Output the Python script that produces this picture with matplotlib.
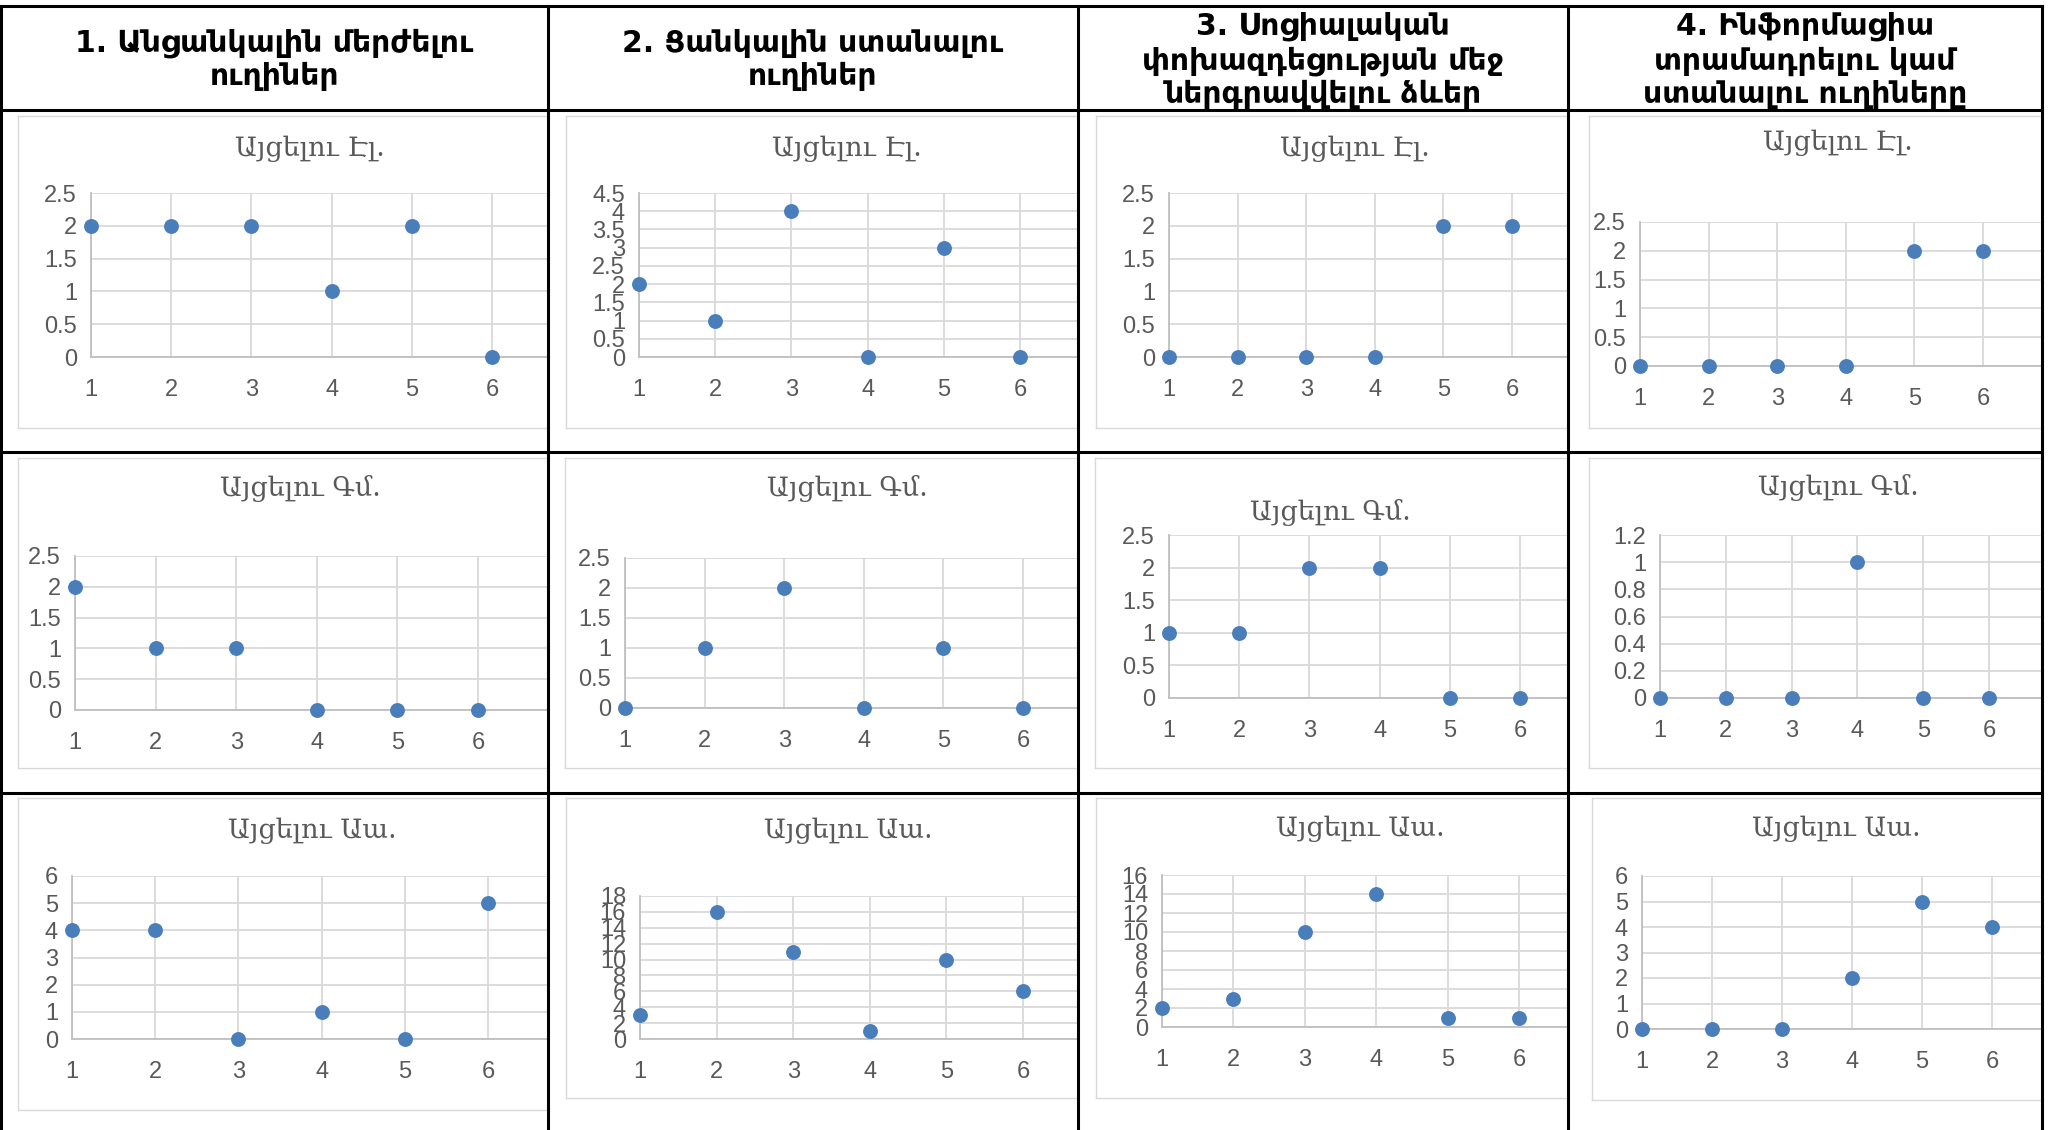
import matplotlib
matplotlib.use("Agg")
import matplotlib.pyplot as plt
from matplotlib.lines import Line2D
from matplotlib.ticker import MultipleLocator, FormatStrFormatter

# ---------------- data ----------------
headers = [
    ["1. Անցանկալին մերժելու", "ուղիներ"],
    ["2. Ցանկալին ստանալու", "ուղիներ"],
    ["3. Սոցիալական", "փոխազդեցության մեջ", "ներգրավվելու ձևեր"],
    ["4. Ինֆորմացիա", "տրամադրելու կամ", "ստանալու ուղիները"],
]
row_titles = ["Այցելու Էլ.", "Այցելու Գմ.", "Այցելու Աա."]
x_vals = [1, 2, 3, 4, 5, 6]

el_1 = [2, 2, 2, 1, 2, 0]
el_2 = [2, 1, 4, 0, 3, 0]
el_3 = [0, 0, 0, 0, 2, 2]
el_4 = [0, 0, 0, 0, 2, 2]

gm_1 = [2, 1, 1, 0, 0, 0]
gm_2 = [0, 1, 2, 0, 1, 0]
gm_3 = [1, 1, 2, 2, 0, 0]
gm_4 = [0, 0, 0, 1, 0, 0]

aa_1 = [4, 4, 0, 1, 0, 5]
aa_2 = [3, 16, 11, 1, 10, 6]
aa_3 = [2, 3, 10, 14, 1, 1]
aa_4 = [0, 0, 0, 2, 5, 4]

series = [[el_1, el_2, el_3, el_4],
          [gm_1, gm_2, gm_3, gm_4],
          [aa_1, aa_2, aa_3, aa_4]]
y_max = [[2.5, 4.5, 2.5, 2.5],
         [2.5, 2.5, 2.5, 1.2],
         [6, 18, 16, 6]]
y_step = [[0.5, 0.5, 0.5, 0.5],
          [0.5, 0.5, 0.5, 0.2],
          [1, 2, 2, 1]]

# ---------------- layout (pixels) ----------------
W, H, DPI = 2049, 1130, 100
col_x = [1, 548, 1078, 1568, 2042]
row_y = [6, 110, 452, 793, 1130]

# per chart: x of value 1, x of value 6, y of 0, y of top, title x, title y, box left, box top, box bottom
geom = [
    [(91, 492, 357, 193, 310, 148, 18, 116, 428),
     (639, 1020, 357, 193, 847, 148, 566, 116, 428),
     (1169, 1512, 357, 193, 1355, 148, 1096, 116, 428),
     (1640, 1983, 366, 222, 1838, 143, 1589, 116, 428)],
    [(75, 478, 710, 556, 300, 489, 18, 458, 768),
     (625, 1023, 708, 558, 847, 489, 565, 458, 768),
     (1169, 1520, 698, 535, 1330, 513, 1095, 458, 768),
     (1660, 1989, 698, 535, 1838, 487, 1589, 458, 768)],
    [(72, 488, 1039, 876, 312, 830, 18, 798, 1110),
     (640, 1023, 1039, 896, 848, 830, 566, 798, 1098),
     (1162, 1519, 1027, 875, 1360, 828, 1096, 798, 1098),
     (1642, 1992, 1029, 876, 1836, 829, 1592, 798, 1100)],
]
header_y2 = [43, 76]
header_y3 = [26, 61, 94]

MARK = "#4a7ebb"
GRID = "#d9d9d9"
AXIS = "#bfbfbf"
TXT = "#595959"

def fx(x):
    return x / W

def fy(y):
    return 1 - y / H

fig = plt.figure(figsize=(W / DPI, H / DPI), dpi=DPI, facecolor="white")

for r in range(3):
    for c in range(4):
        x1, x6, y0, yt, tx, ty, bl, bt, bb = geom[r][c]
        border = col_x[c + 1] - 1
        unit = (x6 - x1) / 5.0
        # chart box
        for xs, ys in [((bl, bl), (bt, bb)), ((bl, border), (bt, bt)), ((bl, border), (bb, bb))]:
            fig.add_artist(Line2D([fx(v) for v in xs], [fy(v) for v in ys],
                                  color=GRID, lw=1.0, zorder=1))
        ax = fig.add_axes([fx(x1), fy(y0), (border - x1) / W, (y0 - yt) / H])
        ax.set_facecolor("none")
        ax.set_xlim(1, 1 + (border - x1) / unit)
        ax.set_ylim(0, y_max[r][c])
        ax.xaxis.set_major_locator(MultipleLocator(1))
        ax.yaxis.set_major_locator(MultipleLocator(y_step[r][c]))
        ax.yaxis.set_major_formatter(FormatStrFormatter("%g"))
        ax.grid(True, color=GRID, lw=1.3, zorder=0)
        ax.set_axisbelow(True)
        for s in ["top", "right"]:
            ax.spines[s].set_visible(False)
        for s in ["left", "bottom"]:
            ax.spines[s].set_color(AXIS)
            ax.spines[s].set_linewidth(1.3)
        ax.tick_params(axis="both", length=0, labelsize=17, labelcolor=TXT,
                       labelfontfamily="Liberation Sans")
        ax.tick_params(axis="x", pad=16)
        ax.tick_params(axis="y", pad=10)
        ax.scatter(x_vals, series[r][c], s=115, color=MARK, zorder=3, clip_on=False,
                   linewidths=0)
        fig.text(fx(tx), fy(ty), row_titles[r], ha="center", va="center",
                 fontsize=19.5, color=TXT, family="DejaVu Serif")

# headers
for c in range(4):
    cx = (col_x[c] + col_x[c + 1]) / 2
    lines = headers[c]
    ys = header_y2 if len(lines) == 2 else header_y3
    for line, yy in zip(lines, ys):
        fig.text(fx(cx), fy(yy), line, ha="center", va="center", fontsize=21.5,
                 fontweight="bold", color="black", family="DejaVu Sans")

# table lines
for y in row_y[:4]:
    fig.add_artist(Line2D([fx(col_x[0]), fx(col_x[-1])], [fy(y), fy(y)],
                          color="black", lw=2.2, zorder=10))
for x in col_x:
    fig.add_artist(Line2D([fx(x), fx(x)], [fy(row_y[0]), fy(row_y[-1])],
                          color="black", lw=2.2, zorder=10))

fig.savefig("out.png", dpi=DPI, facecolor="white")
